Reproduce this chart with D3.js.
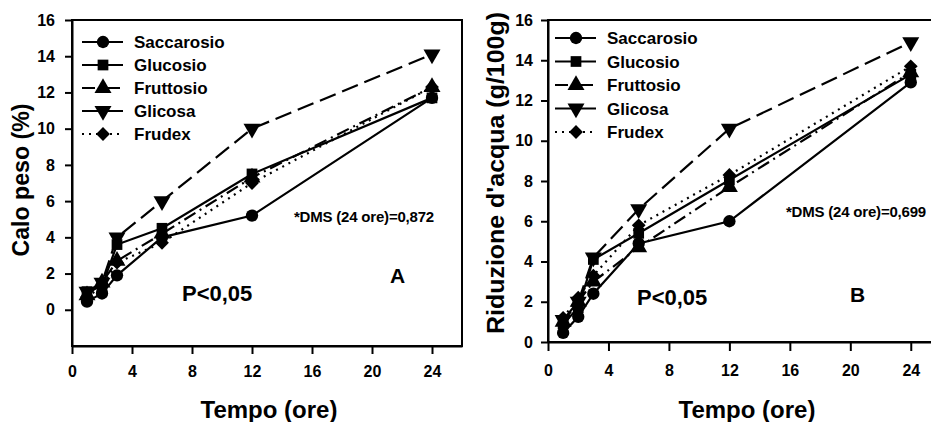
<!DOCTYPE html>
<html lang="it">
<head>
<meta charset="UTF-8" />
<script src="https://d3js.org/d3.v7.min.js"></script>
<title>Calo peso e riduzione d'acqua</title>
<style>
  body { margin: 0; background: #fff; }
  svg { display: block; }
  text { font-family: "Liberation Sans", Arial, sans-serif; font-weight: bold; fill: #000; }
  .tick line, .domain { stroke: #000; stroke-width: 2; }
  .tick text { font-size: 16px; }
  .frame { fill: none; stroke: #000; stroke-width: 2; }
  .serie { fill: none; stroke: #000; stroke-width: 2.2; }
</style>
</head>
<body>
<script>
// ore di campionamento
var ore = [1, 2, 3, 6, 12, 24];
var nomi = ["Saccarosio", "Glucosio", "Fruttosio", "Glicosa", "Frudex"];

// grafico A - calo peso (%)
var aSaccarosio = [0.45, 0.9, 1.9, 4.0, 5.2, 11.7];
var aGlucosio   = [1.0, 1.3, 3.6, 4.5, 7.5, 11.7];
var aFruttosio  = [0.8, 1.5, 2.7, 4.2, 7.3, 12.3];
var aGlicosa    = [1.0, 1.5, 4.0, 6.0, 10.0, 14.1];
var aFrudex     = [0.7, 1.3, 2.6, 3.7, 7.0, 12.3];

// grafico B - riduzione d'acqua (g/100g)
var bSaccarosio = [0.45, 1.25, 2.4, 4.9, 6.0, 12.9];
var bGlucosio   = [0.9, 1.7, 4.1, 5.4, 8.05, 13.3];
var bFruttosio  = [1.0, 2.0, 3.0, 4.7, 7.7, 13.4];
var bGlicosa    = [1.1, 2.0, 4.2, 6.6, 10.6, 14.9];
var bFrudex     = [1.2, 2.2, 3.3, 5.8, 8.3, 13.7];

var xTicks = [0, 4, 8, 12, 16, 20, 24];
var yTicks = [0, 2, 4, 6, 8, 10, 12, 14, 16];

// stile di ogni serie (linea + simbolo)
var stili = [
  { dash: null,       sym: d3.symbolCircle,   size: 120, rot: 0 },
  { dash: null,       sym: d3.symbolSquare,   size: 115, rot: 0 },
  { dash: "13,5,2,5", sym: d3.symbolTriangle, size: 125, rot: 0 },
  { dash: "17,7",     sym: d3.symbolTriangle, size: 125, rot: 180 },
  { dash: "2,5",      sym: d3.symbolSquare,   size: 95,  rot: 45 }
];

var width = 931, height = 422;
var svg = d3.select("body").append("svg")
  .attr("width", width).attr("height", height);

function pannello(cfg) {
  var x = d3.scaleLinear().domain([0, 26]).range([cfg.left, cfg.right]);
  var y = d3.scaleLinear().domain(cfg.yDomain).range([cfg.bottom, 20]);
  var g = svg.append("g");

  // cornice
  g.append("rect").attr("class", "frame")
    .attr("x", cfg.left).attr("y", 20)
    .attr("width", cfg.right - cfg.left).attr("height", cfg.bottom - 20);

  g.append("g").attr("transform", "translate(0," + cfg.bottom + ")")
    .call(d3.axisBottom(x).tickValues(xTicks).tickSize(cfg.tick).tickPadding(cfg.xPad).tickSizeOuter(0));
  g.append("g").attr("transform", "translate(" + cfg.left + ",0)")
    .call(d3.axisLeft(y).tickValues(yTicks).tickSize(7).tickPadding(cfg.yPad).tickSizeOuter(0));

  var line = d3.line().x(function(d) { return x(d[0]); }).y(function(d) { return y(d[1]); });

  cfg.serie.forEach(function(vals, i) {
    var pts = ore.map(function(o, k) { return [o, vals[k]]; });
    var st = stili[i];
    g.append("path").datum(pts).attr("class", "serie")
      .attr("stroke-dasharray", st.dash).attr("d", line);
    g.selectAll(".m" + i).data(pts).enter().append("path")
      .attr("d", d3.symbol().type(st.sym).size(st.size))
      .attr("transform", function(d) { return "translate(" + x(d[0]) + "," + y(d[1]) + ") rotate(" + st.rot + ")"; })
      .attr("fill", "#000");
  });

  // legenda
  nomi.forEach(function(n, i) {
    var st = stili[i];
    var ly = cfg.legY + i * cfg.legStep;
    g.append("line").attr("class", "serie")
      .attr("x1", cfg.legX).attr("x2", cfg.legX + 41).attr("y1", ly).attr("y2", ly)
      .attr("stroke-dasharray", st.dash);
    g.append("path")
      .attr("d", d3.symbol().type(st.sym).size(st.size))
      .attr("transform", "translate(" + (cfg.legX + 21) + "," + ly + ") rotate(" + st.rot + ")");
    g.append("text").attr("x", cfg.legX + 52).attr("y", ly + 6)
      .style("font-size", "17px").text(n);
  });

  // titoli assi
  g.append("text").attr("x", cfg.xTitleX).attr("y", 418)
    .attr("text-anchor", "middle").style("font-size", "24px").text("Tempo (ore)");
  g.append("text")
    .attr("transform", "translate(" + cfg.yTitleX + "," + cfg.yTitleY + ") rotate(-90)")
    .attr("text-anchor", "middle").style("font-size", "23px")
    .attr("textLength", cfg.yTitleLen).attr("lengthAdjust", "spacingAndGlyphs")
    .text(cfg.yTitle);

  // annotazioni
  g.append("text").attr("x", cfg.dmsX).attr("y", cfg.dmsY)
    .attr("text-anchor", "end").style("font-size", "15px").style("letter-spacing", "-0.2px")
    .text(cfg.dms);
  g.append("text").attr("x", cfg.pX).attr("y", cfg.pY)
    .style("font-size", "22px").text("P<0,05");
  g.append("text").attr("x", cfg.letX).attr("y", cfg.letY)
    .style("font-size", "21px").text(cfg.lettera);
}

pannello({
  left: 72, right: 462, bottom: 346, yDomain: [-2, 16], tick: 8, xPad: 12, yPad: 10,
  serie: [aSaccarosio, aGlucosio, aFruttosio, aGlicosa, aFrudex],
  legX: 82, legY: 42, legStep: 23,
  xTitleX: 269, yTitleX: 29, yTitleY: 180, yTitleLen: 153, yTitle: "Calo peso (%)",
  dms: "*DMS (24 ore)=0,872", dmsX: 434, dmsY: 222,
  pX: 182, pY: 301, lettera: "A", letX: 390, letY: 283
});

pannello({
  left: 548, right: 941, bottom: 342, yDomain: [0, 16], tick: 9, xPad: 14, yPad: 8,
  serie: [bSaccarosio, bGlucosio, bFruttosio, bGlicosa, bFrudex],
  legX: 555, legY: 38, legStep: 23.5,
  xTitleX: 747, yTitleX: 504, yTitleY: 173, yTitleLen: 322, yTitle: "Riduzione d'acqua (g/100g)",
  dms: "*DMS (24 ore)=0,699", dmsX: 926, dmsY: 217,
  pX: 637, pY: 305, lettera: "B", letX: 850, letY: 302
});
</script>
</body>
</html>
